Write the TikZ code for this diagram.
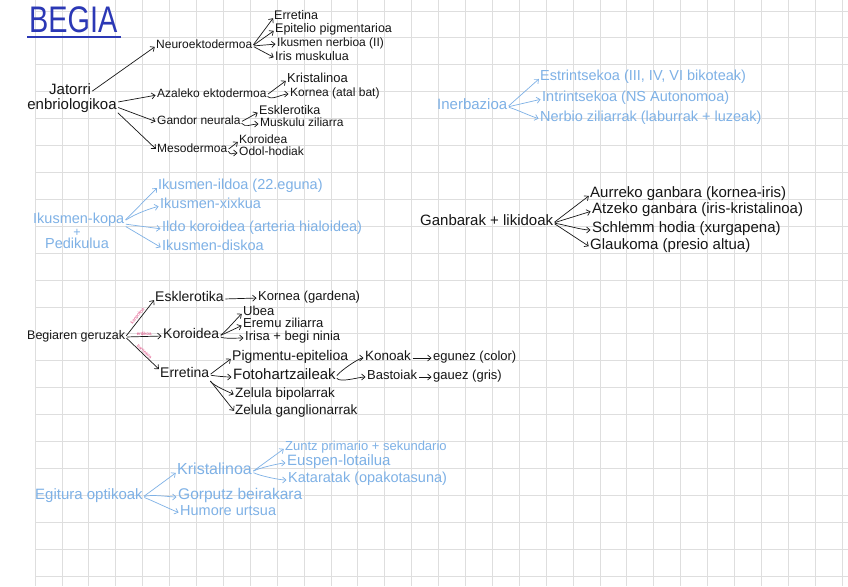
\documentclass[tikz,border=0pt]{standalone}
\usepackage{fontspec}
\setmainfont{Liberation Sans}
\usetikzlibrary{arrows.meta}
\definecolor{ink}{HTML}{161616}
\definecolor{sky}{HTML}{7EB1E6}
\definecolor{navy}{HTML}{2B38B5}
\definecolor{rosa}{HTML}{E0457E}
\definecolor{gridc}{HTML}{DEDEDE}
\newcommand\fz[1]{\fontsize{#1}{#1}\selectfont}
\tikzset{
 lbl/.style={inner sep=0pt, anchor=west, text height=0.72em, text depth=0.2em},
 arr/.style={-{Straight Barb[length=3.4pt,width=6pt]}, line width=0.7pt, shorten <=1.5pt, shorten >=1.5pt},
 bk/.style={lbl, text=ink},
 sk/.style={lbl, text=sky},
 tinylbl/.style={font=\fz{4.5}, text=rosa, inner sep=0.6pt},
}
\begin{document}
\begin{tikzpicture}[x=1pt,y=-1pt]
\useasboundingbox (0,0) rectangle (848,586);
\fill[white] (0,0) rectangle (848,586);
\foreach \i in {0,...,30} \draw[gridc, line width=0.8pt] ({35+26.9*\i},0) -- ({35+26.9*\i},586);
\foreach \j in {0,...,21} \draw[gridc, line width=0.8pt] (35,{11+26.9*\j}) -- (848,{11+26.9*\j});

% title
\node[inner sep=0pt, anchor=base west, text=navy, font=\fz{37}] (title) at (29,33) {\scalebox{0.78}[1]{BEGIA}};
\draw[navy, line width=1.6pt] ([xshift=-2pt,yshift=-4pt]title.base west) -- ([xshift=3pt,yshift=-4pt]title.base east);

% ---- Jatorri enbriologikoa
\node[bk, anchor=center, font=\fz{15}] (jat) at (70,92) {Jatorri};
\node[bk, anchor=center, font=\fz{15}] (enb) at (72,107) {enbriologikoa};
\node[bk, font=\fz{12}] (neuro) at (156,46) {Neuroektodermoa};
\node[bk, font=\fz{12}] (azal) at (157,95) {Azaleko ektodermoa};
\node[bk, font=\fz{12}] (gand) at (157,122) {Gandor neurala};
\node[bk, font=\fz{12}] (meso) at (157,150) {Mesodermoa};
\node[bk, font=\fz{12.5}] (n1) at (274,17) {Erretina};
\node[bk, font=\fz{12.5}] (n2) at (275,30) {Epitelio pigmentarioa};
\node[bk, font=\fz{12}] (n3) at (277,44) {Ikusmen nerbioa (II)};
\node[bk, font=\fz{12.5}] (n4) at (275,58) {Iris muskulua};
\node[bk, font=\fz{13}] (a1) at (287,80) {Kristalinoa};
\node[bk, font=\fz{12}] (a2) at (290,94) {Kornea (atal bat)};
\node[bk, font=\fz{12.5}] (g1) at (259,112) {Esklerotika};
\node[bk, font=\fz{12}] (g2) at (260,124) {Muskulu ziliarra};
\node[bk, font=\fz{12}] (m1) at (239,141) {Koroidea};
\node[bk, font=\fz{12}] (m2) at (239,153) {Odol-hodiak};

\begin{scope}[ink]
\draw[arr] (jat.east) -- (neuro.west);
\draw[arr] (enb.north east) -- (azal.west);
\draw[arr] (enb.east) -- (gand.west);
\draw[arr] (enb.south east) -- (meso.west);
\draw[arr] (neuro.east) -- (n1.west);
\draw[arr] (neuro.east) -- (n2.west);
\draw[arr] (neuro.east) -- (n3.west);
\draw[arr] (neuro.east) -- (n4.west);
\draw[arr] (azal.east) -- (a1.west);
\draw[arr] (azal.east) .. controls +(4,6) and +(-8,0) .. (a2.west);
\draw[arr] (gand.east) -- (g1.west);
\draw[arr] (gand.east) .. controls +(4,6) and +(-8,0) .. (g2.west);
\draw[arr] (meso.east) -- (m1.west);
\draw[arr] (meso.east) .. controls +(4,6) and +(-8,0) .. (m2.west);
\end{scope}

% ---- Inerbazioa
\node[sk, font=\fz{15}] (inb) at (437,107) {Inerbazioa};
\node[sk, font=\fz{14.5}] (i1) at (540,78) {Estrintsekoa (III, IV, VI bikoteak)};
\node[sk, font=\fz{14.5}] (i2) at (542,99) {Intrintsekoa (NS Autonomoa)};
\node[sk, font=\fz{14.5}] (i3) at (540,119) {Nerbio ziliarrak (laburrak + luzeak)};
\begin{scope}[sky]
\draw[arr] (inb.east) -- (i1.west);
\draw[arr] (inb.east) -- (i2.west);
\draw[arr] (inb.east) .. controls +(8,2) and +(-10,-3) .. (i3.west);
\end{scope}

% ---- Ikusmen-kopa
\node[sk, font=\fz{14.5}] (kopa) at (33,221) {Ikusmen-kopa};
\node[inner sep=0pt, text=sky, font=\fz{12.5}] (plus) at (77,232.5) {+};
\node[sk, anchor=center, font=\fz{14.5}] (pedi) at (77,246) {Pedikulua};
\node[sk, font=\fz{14.5}] (k1) at (158,187) {Ikusmen-ildoa (22.eguna)};
\node[sk, font=\fz{14.5}] (k2) at (160,206) {Ikusmen-xixkua};
\node[sk, font=\fz{14.5}] (k3) at (162,229) {Ildo koroidea (arteria hialoidea)};
\node[sk, font=\fz{14.5}] (k4) at (162,248) {Ikusmen-diskoa};
\begin{scope}[sky]
\draw[arr] (kopa.east) -- (k1.west);
\draw[arr] (kopa.east) .. controls +(12,-8) and +(-8,2) .. (k2.west);
\draw[arr] ([yshift=-3pt]kopa.east) -- (k3.west);
\draw[arr] (kopa.south east) -- (k4.west);
\end{scope}

% ---- Ganbarak + likidoak
\node[bk, font=\fz{15}] (gan) at (420,223) {Ganbarak + likidoak};
\node[bk, font=\fz{15}] (b1) at (590,195) {Aurreko ganbara (kornea-iris)};
\node[bk, font=\fz{15}] (b2) at (592,211) {Atzeko ganbara (iris-kristalinoa)};
\node[bk, font=\fz{15}] (b3) at (592,230) {Schlemm hodia (xurgapena)};
\node[bk, font=\fz{15}] (b4) at (590,247) {Glaukoma (presio altua)};
\begin{scope}[ink]
\draw[arr] (gan.east) -- (b1.west);
\draw[arr] (gan.east) -- (b2.west);
\draw[arr] (gan.east) .. controls +(12,2) and +(-10,0) .. (b3.west);
\draw[arr] (gan.east) -- (b4.west);
\end{scope}

% ---- Begiaren geruzak
\node[bk, font=\fz{12.5}] (beg) at (27,337) {Begiaren geruzak};
\node[bk, font=\fz{14}] (esk) at (155,299) {Esklerotika};
\node[bk, font=\fz{13}] (kore) at (258,298) {Kornea (gardena)};
\node[bk, font=\fz{14}] (kor) at (163,336) {Koroidea};
\node[bk, font=\fz{13}] (u1) at (243,313) {Ubea};
\node[bk, font=\fz{13}] (u2) at (243,325) {Eremu ziliarra};
\node[bk, font=\fz{13}] (u3) at (245,338) {Irisa + begi ninia};
\node[bk, font=\fz{14}] (err) at (160,375) {Erretina};
\node[bk, font=\fz{14}] (e1) at (232,358) {Pigmentu-epitelioa};
\node[bk, font=\fz{15}] (e2) at (233,377) {Fotohartzaileak};
\node[bk, font=\fz{13.5}] (e3) at (235,395) {Zelula bipolarrak};
\node[bk, font=\fz{13.5}] (e4) at (235,412) {Zelula ganglionarrak};
\node[bk, font=\fz{13.5}] (ko) at (365,358) {Konoak};
\node[bk, font=\fz{13}] (ko2) at (433,358) {egunez (color)};
\node[bk, font=\fz{13}] (ba) at (367,377) {Bastoiak};
\node[bk, font=\fz{13}] (ba2) at (433,377) {gauez (gris)};
\begin{scope}[ink]
\draw[arr] (beg.east) -- node[tinylbl, sloped, above] {kanpokoa} (esk.west);
\draw[arr] (beg.east) -- node[tinylbl, sloped, above] {erdikoa} (kor.west);
\draw[arr] (beg.east) -- node[tinylbl, sloped, above] {barnekoa} (err.north west);
\draw[arr] (esk.east) -- (kore.west);
\draw[arr] (kor.east) .. controls +(6,-4) and +(-4,3) .. (u1.west);
\draw[arr] (kor.east) -- (u2.west);
\draw[arr] (kor.east) .. controls +(4,3) and +(-8,0) .. (u3.west);
\draw[arr] (err.east) -- (e1.west);
\draw[arr] (err.east) .. controls +(6,1) and +(-8,0) .. (e2.west);
\draw[arr] (err.south east) .. controls +(4,6) and +(-6,-3) .. (e3.west);
\draw[arr] (err.south east) -- (e4.west);
\draw[arr] (e2.east) .. controls +(4,-6) and +(-6,0) .. (ko.west);
\draw[arr] (e2.east) .. controls +(4,6) and +(-8,0) .. (ba.west);
\draw[arr] (ko.east) -- (ko2.west);
\draw[arr] (ba.east) -- (ba2.west);
\end{scope}

% ---- Egitura optikoak
\node[sk, font=\fz{15}] (ego) at (35,497) {Egitura optikoak};
\node[sk, font=\fz{16}] (eo1) at (177,472) {Kristalinoa};
\node[sk, font=\fz{15.5}] (eo2) at (178,497) {Gorputz beirakara};
\node[sk, font=\fz{14.5}] (eo3) at (180,513) {Humore urtsua};
\node[sk, font=\fz{13}] (z1) at (285,448) {Zuntz primario + sekundario};
\node[sk, font=\fz{15}] (z2) at (287,463) {Euspen-lotailua};
\node[sk, font=\fz{14.5}] (z3) at (288,480) {Kataratak (opakotasuna)};
\begin{scope}[sky]
\draw[arr] (ego.east) -- (eo1.west);
\draw[arr] (ego.east) .. controls +(8,-3) and +(-8,0) .. (eo2.west);
\draw[arr] (ego.east) .. controls +(8,3) and +(-8,-3) .. (eo3.west);
\draw[arr] (eo1.east) -- (z1.west);
\draw[arr] (eo1.east) .. controls +(6,-4) and +(-6,0) .. (z2.west);
\draw[arr] (eo1.east) .. controls +(8,4) and +(-8,0) .. (z3.west);
\end{scope}
\end{tikzpicture}
\end{document}
